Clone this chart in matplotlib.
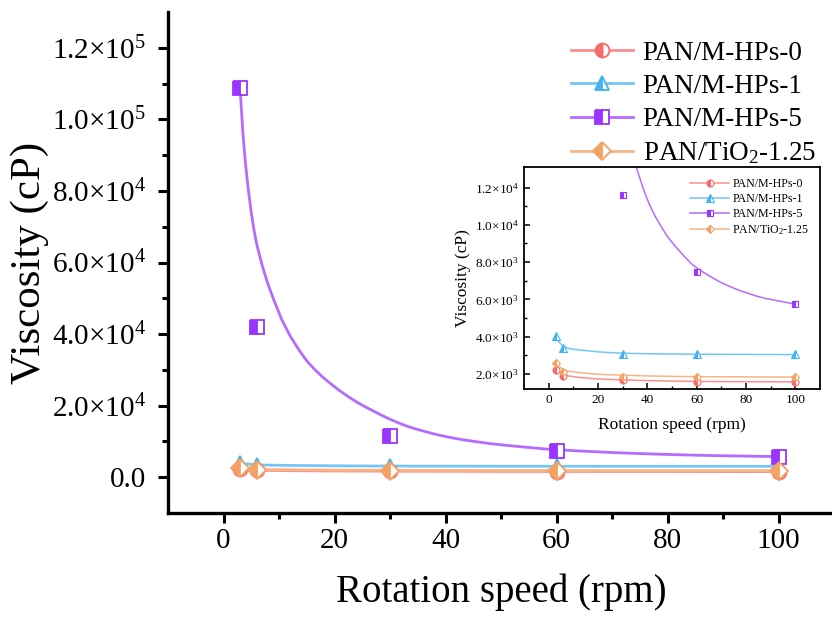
import matplotlib
matplotlib.use("Agg")
import matplotlib.pyplot as plt
from matplotlib.ticker import FuncFormatter, FixedLocator
from matplotlib.lines import Line2D
import math

plt.rcParams['font.family'] = ['Liberation Serif', 'DejaVu Serif']
plt.rcParams['mathtext.fontset'] = 'custom'
plt.rcParams['mathtext.rm'] = 'Liberation Serif'
plt.rcParams['mathtext.it'] = 'Liberation Serif:italic'
plt.rcParams['mathtext.bf'] = 'Liberation Serif:bold'
plt.rcParams['mathtext.default'] = 'regular'

# ---- data ----
speeds = [3, 6, 30, 60, 100]
mhps0 = [2200, 1910, 1660, 1570, 1570]
mhps1 = [4016, 3390, 3090, 3070, 3050]
mhps5 = [108800, 42000, 11600, 7460, 5780]
tio2 = [2620, 2120, 1870, 1840, 1840]

# fitted curves as drawn in the figure
fit5_x = [3, 3.5, 4, 4.5, 5, 5.5, 6, 7, 8, 9, 10.5, 12, 13.5, 15, 16.5, 18, 19.5, 21, 22.5, 24, 25.5,
          27, 28.5, 30, 31.5, 33, 34.5, 36, 37.5, 39, 41, 43, 45.5, 48, 50.5, 53, 55.5, 58, 61,
          64, 67, 70, 73.5, 77, 81, 85, 88.5, 92, 96, 100]
fit5_y = [108500, 96000, 87000, 80000, 74000, 69000, 65000, 59000, 54000, 49800, 44000, 39500, 35800,
          32500, 30000, 27800, 25900, 24100, 22500, 21000, 19700, 18500, 17300, 16200, 15200, 14300,
          13550, 12900, 12280, 11700, 11050, 10500, 9930, 9400, 8980, 8600, 8240, 7900, 7600,
          7350, 7120, 6900, 6690, 6500, 6320, 6150, 6040, 5950, 5850, 5750]
fits_x = [3, 4, 5, 6, 8, 10, 12.5, 15, 20, 25, 30, 40, 50, 60, 80, 100]
fit0_y = [2230, 2130, 2040, 1970, 1900, 1860, 1820, 1790, 1740, 1710, 1690, 1650, 1625, 1605, 1590, 1580]
fit1_y = [3990, 3760, 3600, 3490, 3380, 3330, 3290, 3260, 3190, 3150, 3120, 3090, 3075, 3065, 3055, 3045]
fitT_y = [2620, 2450, 2330, 2240, 2160, 2120, 2080, 2050, 1990, 1960, 1940, 1900, 1875, 1860, 1850, 1840]

labels = ['PAN/M-HPs-0', 'PAN/M-HPs-1', 'PAN/M-HPs-5', 'PAN/TiO$_2$-1.25']
mcolors = ['#F76A6A', '#42B3F2', '#9A35FF', '#F3A263']
lcolors = ['#FF8E8E', '#74C6F6', '#B46BFF', '#F7B487']
markers = ['o', '^', 's', 'D']

series = [mhps0, mhps1, mhps5, tio2]
fit_x = [fits_x, fits_x, fit5_x, fits_x]
fit_y = [fit0_y, fit1_y, fit5_y, fitT_y]

fig = plt.figure(figsize=(8.32, 6.17), dpi=100)
ax = fig.add_axes([168/832, (617-513)/617, (834-168)/832, (513-12)/617])

msize_main = [10, 10.5, 9.5, 9.5]
for i in range(4):
    ax.plot(fit_x[i], fit_y[i], '-', color=lcolors[i], lw=2.0, zorder=2)
for i in range(4):
    ax.plot(speeds, series[i], linestyle='none', marker=markers[i], ms=msize_main[i],
            mfc=mcolors[i], mec=mcolors[i], mfcalt='white', fillstyle='left', mew=1.3, zorder=3)

ax.set_xlim(-10, 110)
ax.set_ylim(-1e4, 1.3e5)
ax.xaxis.set_major_locator(FixedLocator([0, 20, 40, 60, 80, 100]))
ax.xaxis.set_minor_locator(FixedLocator([10, 30, 50, 70, 90]))
ax.yaxis.set_major_locator(FixedLocator([0, 2e4, 4e4, 6e4, 8e4, 1e5, 1.2e5]))
ax.yaxis.set_minor_locator(FixedLocator([1e4, 3e4, 5e4, 7e4, 9e4, 1.1e5]))


def sci(v, pos):
    if v == 0:
        return '0.0'
    e = int(math.floor(math.log10(abs(v)) + 1e-9))
    m = v / 10**e
    return f'{m:.1f}×10$^{{{e}}}$'


ax.yaxis.set_major_formatter(FuncFormatter(sci))
for s in ['top', 'right']:
    ax.spines[s].set_visible(False)
for s in ['left', 'bottom']:
    ax.spines[s].set_linewidth(2.4)
ax.tick_params(which='major', direction='out', length=7, width=2.2, labelsize=21)
ax.tick_params(axis='y', which='major', pad=9)
ax.tick_params(which='minor', direction='out', length=4, width=2.2)
ax.set_xlabel('Rotation speed (rpm)', fontsize=28, labelpad=14)
ax.set_ylabel('Viscosity (cP)', fontsize=31, labelpad=2)

handles = [Line2D([], [], color=lcolors[i], lw=2.0, marker=markers[i], ms=msize_main[i],
                  mfc=mcolors[i], mec=mcolors[i], mfcalt='white', fillstyle='left', mew=1.3)
           for i in range(4)]
ax.legend(handles, labels, loc='upper right', bbox_to_anchor=(0.997, 0.975), frameon=False,
          fontsize=19.5, handlelength=2.3, handletextpad=0.35, labelspacing=0.3, borderaxespad=0.2)

# ---- inset ----
ins = fig.add_axes([524/832, (617-389)/617, (820-524)/832, (389-167)/617])
msize_ins = [5, 5.5, 4.5, 4.5]
for i in range(4):
    ins.plot(fit_x[i], fit_y[i], '-', color=lcolors[i], lw=1.1, zorder=2)
for i in range(4):
    ins.plot(speeds, series[i], linestyle='none', marker=markers[i], ms=msize_ins[i],
             mfc=mcolors[i], mec=mcolors[i], mfcalt='white', fillstyle='left', mew=0.8, zorder=3)
ins.set_xlim(-10, 110)
ins.set_ylim(1200, 13100)
ins.xaxis.set_major_locator(FixedLocator([0, 20, 40, 60, 80, 100]))
ins.xaxis.set_minor_locator(FixedLocator([10, 30, 50, 70, 90]))
ins.yaxis.set_major_locator(FixedLocator([2e3, 4e3, 6e3, 8e3, 1e4, 1.2e4]))
ins.yaxis.set_minor_locator(FixedLocator([3e3, 5e3, 7e3, 9e3, 1.1e4]))
ins.yaxis.set_major_formatter(FuncFormatter(sci))
for s in ins.spines.values():
    s.set_linewidth(1.3)
ins.tick_params(which='major', direction='in', length=4, width=1.1, labelsize=9.5)
ins.tick_params(which='minor', direction='in', length=2.5, width=1.0)
ins.set_xlabel('Rotation speed (rpm)', fontsize=12.5, labelpad=8)
ins.set_ylabel('Viscosity (cP)', fontsize=12.5, labelpad=3)
ih = [Line2D([], [], color=lcolors[i], lw=1.1, marker=markers[i], ms=msize_ins[i],
             mfc=mcolors[i], mec=mcolors[i], mfcalt='white', fillstyle='left', mew=0.8)
      for i in range(4)]
ins.legend(ih, labels, loc='upper right', frameon=False, fontsize=8.6, handlelength=3.2,
           handletextpad=0.3, labelspacing=0.25, borderaxespad=0.5)

fig.savefig('out.png', dpi=100)
